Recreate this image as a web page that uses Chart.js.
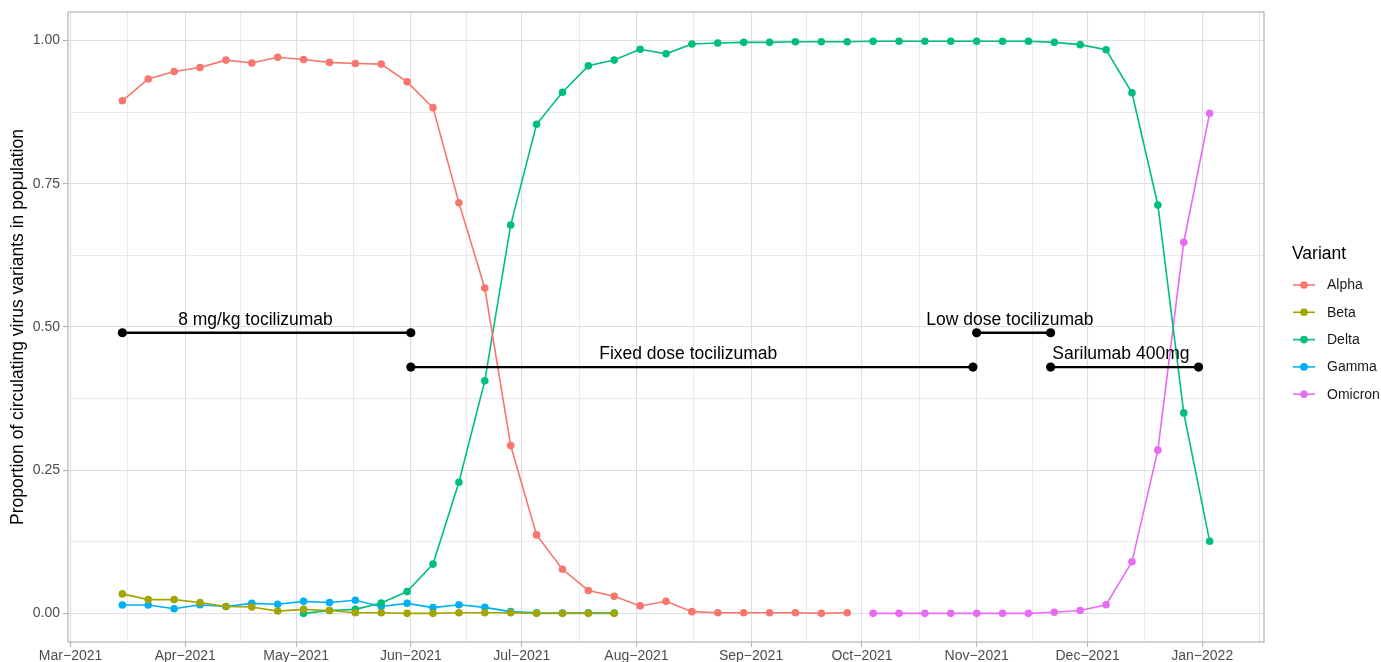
<!DOCTYPE html>
<html>
<head>
<meta charset="utf-8">
<script src="https://cdn.jsdelivr.net/npm/chart.js@4.4.1/dist/chart.umd.min.js"></script>
<style>
  html, body { margin: 0; padding: 0; background: #fff; }
  #wrap { width: 1381px; height: 662px; }
</style>
</head>
<body>
<div id="wrap"><canvas id="variantChart"></canvas></div>
<script>
// Weekly sampling dates
const weekDates = [
    '2021-03-15', '2021-03-22', '2021-03-29', '2021-04-05', '2021-04-12', '2021-04-19', '2021-04-26',
    '2021-05-03', '2021-05-10', '2021-05-17', '2021-05-24', '2021-05-31', '2021-06-07', '2021-06-14',
    '2021-06-21', '2021-06-28', '2021-07-05', '2021-07-12', '2021-07-19', '2021-07-26', '2021-08-02',
    '2021-08-09', '2021-08-16', '2021-08-23', '2021-08-30', '2021-09-06', '2021-09-13', '2021-09-20',
    '2021-09-27', '2021-10-04', '2021-10-11', '2021-10-18', '2021-10-25', '2021-11-01', '2021-11-08',
    '2021-11-15', '2021-11-22', '2021-11-29', '2021-12-06', '2021-12-13', '2021-12-20', '2021-12-27',
    '2022-01-03'
];

const variantNames = ['Alpha', 'Beta', 'Delta', 'Gamma', 'Omicron'];
const variantColors = ['#F8766D', '#A3A500', '#00BF7D', '#00B0F6', '#E76BF3'];

// Proportions, each series starts at the given week index
const alphaFirstWeek = 0;
const alphaValues = [0.895, 0.933, 0.946, 0.953, 0.966, 0.961, 0.971, 0.967, 0.962, 0.960, 0.959, 0.928,
    0.883, 0.717, 0.568, 0.293, 0.137, 0.077, 0.040, 0.030, 0.013, 0.021, 0.003, 0.001, 0.001, 0.001,
    0.001, 0.000, 0.001];
const betaFirstWeek = 0;
const betaValues = [0.034, 0.024, 0.024, 0.019, 0.012, 0.011, 0.004, 0.007, 0.005, 0.001, 0.001, 0.000,
    0.000, 0.001, 0.001, 0.001, 0.000, 0.000, 0.000, 0.000];
const deltaFirstWeek = 7;
const deltaValues = [0.000, 0.005, 0.007, 0.018, 0.038, 0.086, 0.229, 0.406, 0.678, 0.854, 0.910, 0.956,
    0.966, 0.985, 0.977, 0.994, 0.996, 0.997, 0.997, 0.998, 0.998, 0.998, 0.999, 0.999, 0.999, 0.999,
    0.999, 0.999, 0.999, 0.997, 0.993, 0.984, 0.909, 0.713, 0.350, 0.126];
const gammaFirstWeek = 0;
const gammaValues = [0.0145, 0.0145, 0.008, 0.015, 0.012, 0.0175, 0.016, 0.021, 0.019, 0.023, 0.012,
    0.0175, 0.010, 0.015, 0.0105, 0.003, 0.001, 0.0005, 0.001, 0.0005];
const omicronFirstWeek = 29;
const omicronValues = [0.000, 0.000, 0.000, 0.000, 0.000, 0.000, 0.000, 0.002, 0.005, 0.015, 0.090,
    0.285, 0.648, 0.873];

// Treatment periods
const treatmentLabels = ['8 mg/kg tocilizumab', 'Fixed dose tocilizumab', 'Low dose tocilizumab', 'Sarilumab 400mg'];
const treatmentStart = ['2021-03-15', '2021-06-01', '2021-11-01', '2021-11-21'];
const treatmentEnd = ['2021-06-01', '2021-10-31', '2021-11-21', '2021-12-31'];
const treatmentLevel = [0.49, 0.43, 0.49, 0.43];
const treatmentLabelDate = ['2021-04-20', '2021-08-15', '2021-11-10', '2021-12-10'];
const treatmentLabelLevel = [0.512, 0.453, 0.512, 0.453];

// Axis ticks
const monthTickDates = ['2021-03-01', '2021-04-01', '2021-05-01', '2021-06-01', '2021-07-01', '2021-08-01',
    '2021-09-01', '2021-10-01', '2021-11-01', '2021-12-01', '2022-01-01'];
const monthTickLabels = ['Mar\u22122021', 'Apr\u22122021', 'May\u22122021', 'Jun\u22122021', 'Jul\u22122021',
    'Aug\u22122021', 'Sep\u22122021', 'Oct\u22122021', 'Nov\u22122021', 'Dec\u22122021', 'Jan\u22122022'];
const yTickValues = [0, 0.25, 0.5, 0.75, 1];

const FONT = "'Liberation Sans', Arial, sans-serif";

function dayOf(s) {
    const t = Date.UTC(+s.slice(0, 4), +s.slice(5, 7) - 1, +s.slice(8, 10));
    return (t - Date.UTC(2021, 2, 1)) / 86400000;
}

function withMinors(majors) {
    // ggplot style: minor breaks halfway between majors, extended one step each side
    const step = majors[1] - majors[0];
    const ext = [majors[0] - step, ...majors, majors[majors.length - 1] + step];
    const out = [];
    for (let i = 0; i < ext.length - 1; i++) {
        if (i > 0) out.push(ext[i]);
        out.push((ext[i] + ext[i + 1]) / 2);
    }
    return out;
}

const monthDays = monthTickDates.map(dayOf);
const xTicks = withMinors(monthDays);
const yTicks = withMinors(yTickValues);

const firstDay = dayOf(weekDates[0]);
const lastDay = dayOf(weekDates[weekDates.length - 1]);
const xPad = (lastDay - firstDay) * 0.05;

function seriesPoints(values, firstWeek) {
    return values.map((v, i) => ({ x: dayOf(weekDates[firstWeek + i]), y: v }));
}

const variantSeries = [
    seriesPoints(alphaValues, alphaFirstWeek),
    seriesPoints(betaValues, betaFirstWeek),
    seriesPoints(deltaValues, deltaFirstWeek),
    seriesPoints(gammaValues, gammaFirstWeek),
    seriesPoints(omicronValues, omicronFirstWeek)
];

const datasets = variantNames.map((name, i) => ({
    label: name,
    data: variantSeries[i],
    borderColor: variantColors[i],
    backgroundColor: variantColors[i],
    borderWidth: 1.6,
    pointRadius: 3.8,
    pointHoverRadius: 3.8,
    pointBorderWidth: 0,
    tension: 0,
    order: 2
}));

treatmentLabels.forEach((label, i) => {
    datasets.push({
        label: label,
        data: [
            { x: dayOf(treatmentStart[i]), y: treatmentLevel[i] },
            { x: dayOf(treatmentEnd[i]), y: treatmentLevel[i] }
        ],
        borderColor: '#000000',
        backgroundColor: '#000000',
        borderWidth: 2.4,
        pointRadius: 4.6,
        pointBorderWidth: 0,
        order: 1
    });
});

const treatmentTextPlugin = {
    id: 'treatmentText',
    afterDatasetsDraw(chart) {
        const ctx = chart.ctx;
        const xs = chart.scales.x, ys = chart.scales.y;
        ctx.save();
        ctx.fillStyle = '#000000';
        ctx.font = '17.5px ' + FONT;
        ctx.textAlign = 'center';
        ctx.textBaseline = 'middle';
        treatmentLabels.forEach((label, i) => {
            ctx.fillText(label, xs.getPixelForValue(dayOf(treatmentLabelDate[i])),
                ys.getPixelForValue(treatmentLabelLevel[i]));
        });
        ctx.restore();
    }
};

const panelPlugin = {
    id: 'panelBorder',
    afterDraw(chart) {
        const a = chart.chartArea;
        const ctx = chart.ctx;
        ctx.save();
        ctx.strokeStyle = '#b3b3b3';
        ctx.lineWidth = 1.2;
        ctx.strokeRect(a.left, a.top, a.right - a.left, a.bottom - a.top);
        ctx.restore();
    }
};

const legendPlugin = {
    id: 'variantLegend',
    afterDraw(chart) {
        const ctx = chart.ctx;
        ctx.save();
        ctx.textBaseline = 'middle';
        ctx.textAlign = 'left';
        ctx.fillStyle = '#000000';
        ctx.font = '17.5px ' + FONT;
        ctx.fillText('Variant', 1292, 254);
        ctx.font = '14px ' + FONT;
        variantNames.forEach((name, i) => {
            const y = 285 + i * 27.3;
            ctx.strokeStyle = variantColors[i];
            ctx.lineWidth = 1.6;
            ctx.beginPath();
            ctx.moveTo(1293, y);
            ctx.lineTo(1315, y);
            ctx.stroke();
            ctx.fillStyle = variantColors[i];
            ctx.beginPath();
            ctx.arc(1304, y, 3.8, 0, Math.PI * 2);
            ctx.fill();
            ctx.fillStyle = '#1a1a1a';
            ctx.fillText(name, 1327, y + 0.5);
        });
        ctx.restore();
    }
};

function isMajor(list, v) {
    return list.some(m => Math.abs(m - v) < 1e-9);
}

new Chart(document.getElementById('variantChart').getContext('2d'), {
    type: 'line',
    data: { datasets: datasets },
    options: {
        responsive: true,
        maintainAspectRatio: false,
        animation: false,
        layout: { padding: { left: 0, top: 12, right: 117, bottom: 0 } },
        plugins: {
            legend: { display: false },
            tooltip: { enabled: false }
        },
        scales: {
            x: {
                type: 'linear',
                min: firstDay - xPad,
                max: lastDay + xPad,
                afterBuildTicks(scale) {
                    scale.ticks = xTicks.filter(v => v >= scale.min && v <= scale.max).map(v => ({ value: v }));
                },
                afterFit(scale) { scale.height = 20; },
                border: { display: false },
                grid: {
                    color: ctx => isMajor(monthDays, ctx.tick.value) ? '#dedede' : '#e8e8e8',
                    lineWidth: ctx => isMajor(monthDays, ctx.tick.value) ? 1.1 : 0.9,
                    tickColor: ctx => isMajor(monthDays, ctx.tick.value) ? '#b3b3b3' : 'rgba(0,0,0,0)',
                    tickLength: 5,
                    drawTicks: true
                },
                ticks: {
                    autoSkip: false,
                    maxRotation: 0,
                    padding: 1,
                    color: '#4d4d4d',
                    font: { family: FONT, size: 14 },
                    callback: value => {
                        const i = monthDays.findIndex(m => Math.abs(m - value) < 1e-9);
                        return i >= 0 ? monthTickLabels[i] : '';
                    }
                }
            },
            y: {
                type: 'linear',
                min: -0.05,
                max: 1.05,
                afterBuildTicks(scale) {
                    scale.ticks = yTicks.filter(v => v >= scale.min && v <= scale.max).map(v => ({ value: v }));
                },
                afterFit(scale) { scale.width = 68; },
                border: { display: false },
                grid: {
                    color: ctx => isMajor(yTickValues, ctx.tick.value) ? '#dedede' : '#e8e8e8',
                    lineWidth: ctx => isMajor(yTickValues, ctx.tick.value) ? 1.1 : 0.9,
                    tickColor: ctx => isMajor(yTickValues, ctx.tick.value) ? '#b3b3b3' : 'rgba(0,0,0,0)',
                    tickLength: 5,
                    drawTicks: true
                },
                ticks: {
                    autoSkip: false,
                    padding: 3,
                    color: '#4d4d4d',
                    font: { family: FONT, size: 14 },
                    callback: value => isMajor(yTickValues, value) ? value.toFixed(2) : ''
                },
                title: {
                    display: true,
                    text: 'Proportion of circulating virus variants in population',
                    color: '#000000',
                    font: { family: FONT, size: 17.5 },
                    padding: { top: 8, bottom: 0 }
                }
            }
        }
    },
    plugins: [treatmentTextPlugin, panelPlugin, legendPlugin]
});
</script>
</body>
</html>
